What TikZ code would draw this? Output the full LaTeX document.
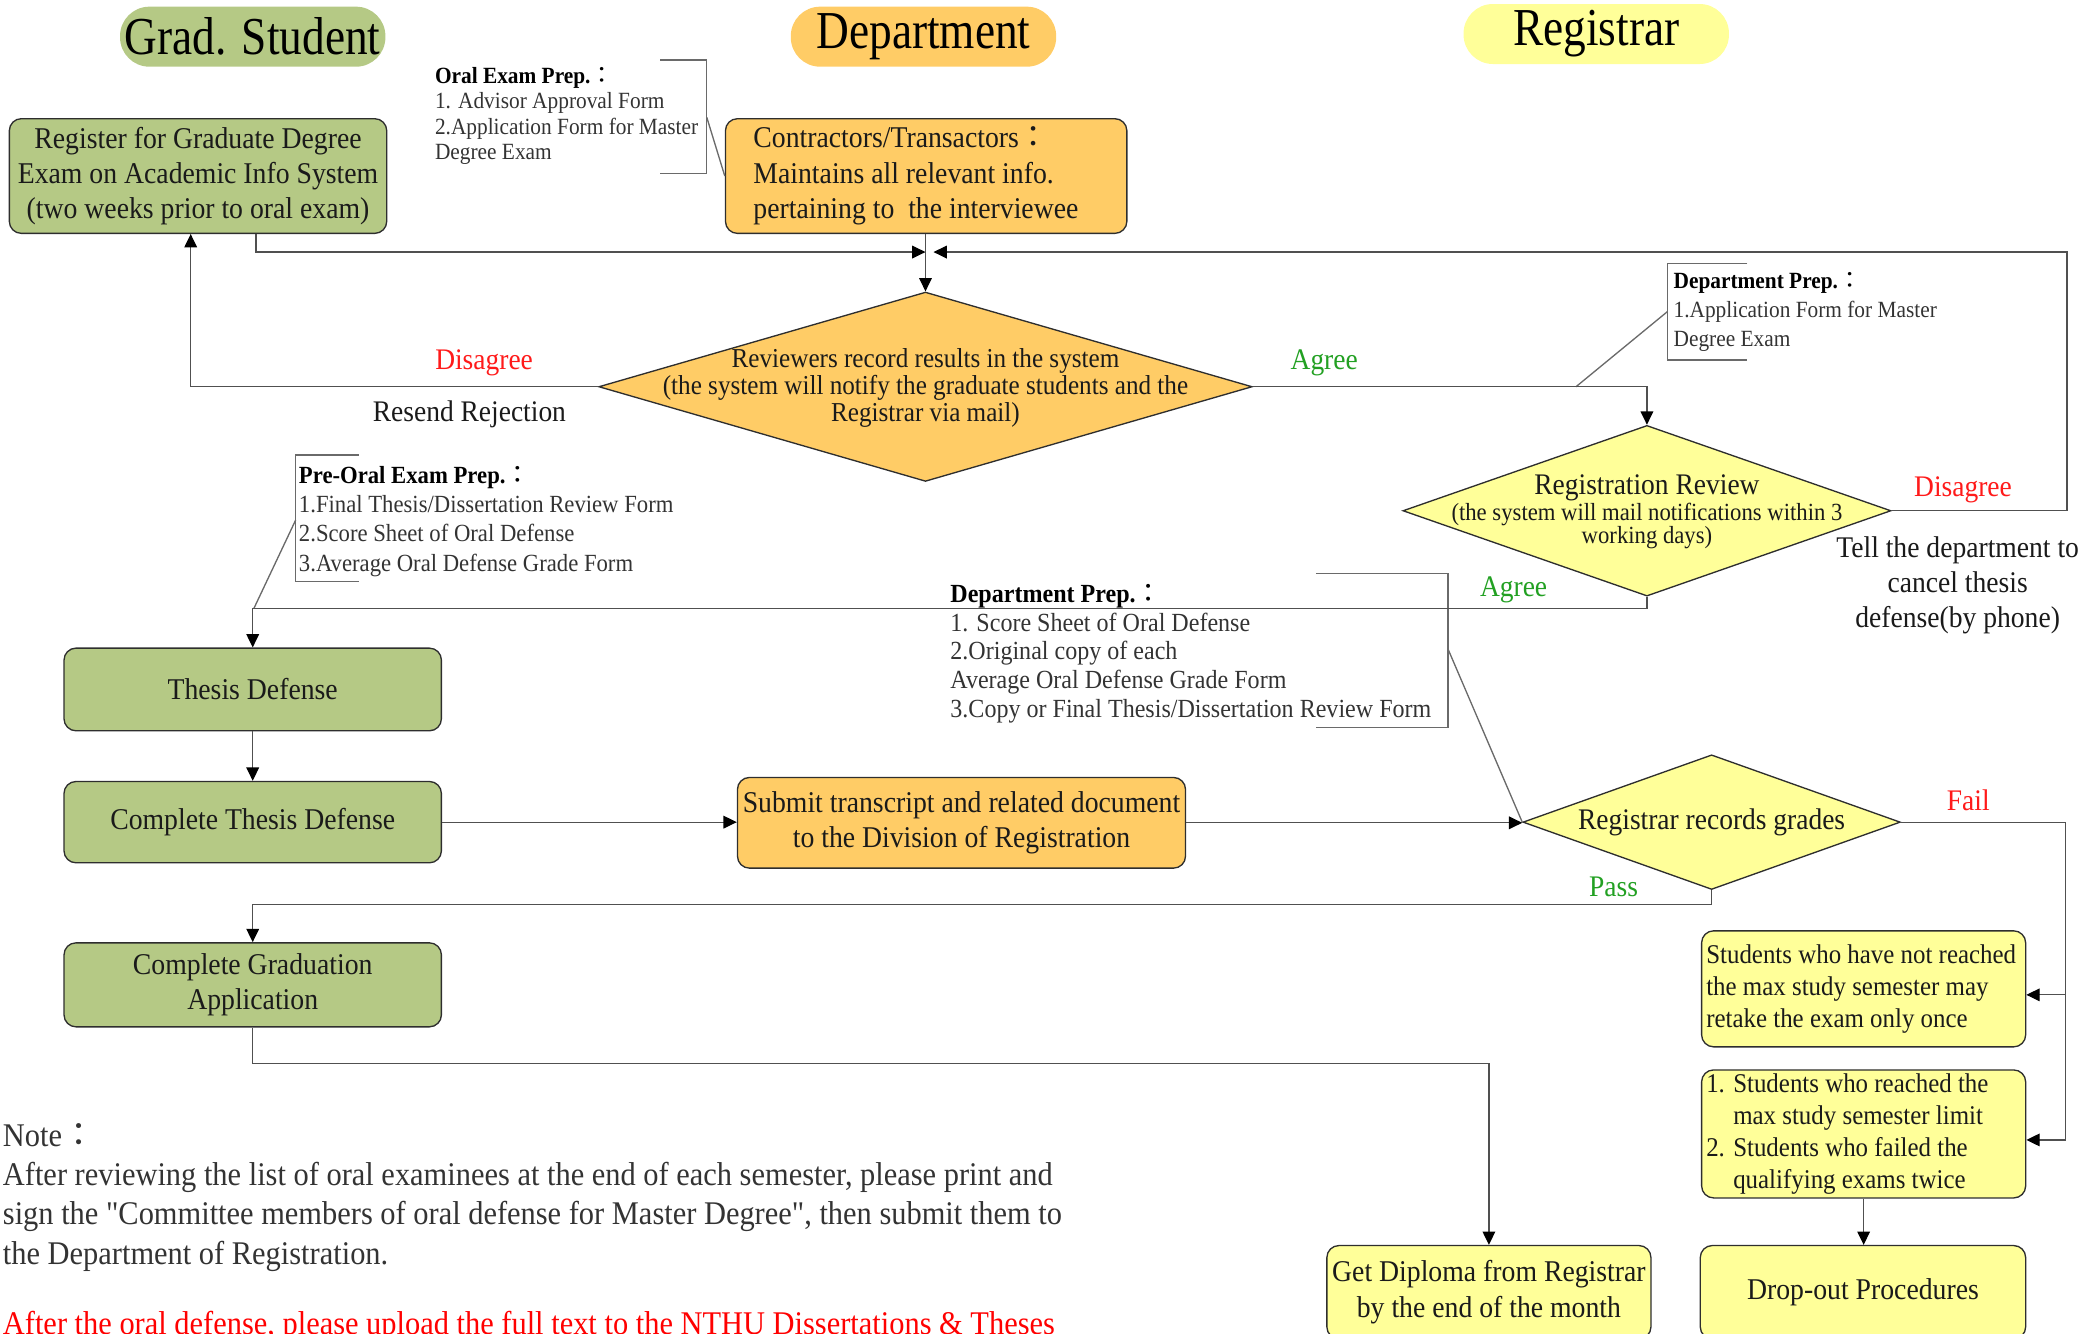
\documentclass[tikz,border=0pt]{standalone}
\usepackage{fontspec}
\setmainfont[FakeStretch=0.92, Ligatures=TeXOff]{Liberation Serif}
\newfontfamily\hdf[FakeStretch=0.85]{Liberation Serif}
\newfontfamily\cjkf{Noto Sans CJK TC}
\usetikzlibrary{arrows.meta,shapes.geometric}
\definecolor{gfill}{HTML}{B5C985}
\definecolor{ofill}{HTML}{FFCC66}
\definecolor{yfill}{HTML}{FFFF99}
\definecolor{agreec}{HTML}{22A022}
\definecolor{redc}{HTML}{FF1A1A}
\definecolor{linec}{HTML}{505050}
\definecolor{edgec}{HTML}{2E2E2E}
\definecolor{txtc}{HTML}{1A1A1A}
\definecolor{annc}{HTML}{333333}
\definecolor{brkc}{HTML}{6A6A6A}
\newcommand\myfs[2]{\fontsize{#1}{#2}\selectfont}
\newcommand\fwc{{\cjkf ：}}
\begin{document}
\begin{tikzpicture}[x=1pt,y=-1pt,
  hdr/.style={rounded corners=22pt, minimum width=199, minimum height=45, inner sep=0pt, font=\hdf\myfs{40}{44}, text=black},
  box/.style={draw=edgec, line width=1pt, rounded corners=9pt, inner sep=0pt, align=center, text=txtc, font=\myfs{22.6}{26.5}},
  dia/.style={diamond, draw=edgec, line width=1pt, inner sep=0pt},
  dtext/.style={align=center, inner sep=0pt, text=txtc},
  lab/.style={inner sep=0pt, font=\myfs{22.4}{26}},
  annot/.style={align=left, inner sep=0pt, text=annc},
  conn/.style={draw=linec, line width=0.9pt},
  arr/.style={draw=linec, line width=0.9pt, -{Triangle[length=10pt,width=9.5pt,color=black]}},
  brk/.style={draw=brkc, line width=1pt}
]
\useasboundingbox (0,0) rectangle (1568,999.6);

% headers
\node[hdr, fill=gfill] (hgrad) at (189.5,27.5) {Grad. Student};
\node[hdr, fill=ofill] (hdept) at (692.5,27.5) {Department};
\node[hdr, fill=yfill] (hreg) at (1197,25.5) {Registrar};

% boxes
\node[box, fill=gfill, minimum width=283, minimum height=86] (reg) at (148.5,132)
  {Register for Graduate Degree\\Exam on Academic Info System\\(two weeks prior to oral exam)};
\node[box, fill=ofill, minimum width=301, minimum height=86, text width=259, align=flush left] (con) at (694.5,132)
  {Contractors/Transactors\fwc\\Maintains all relevant info.\\pertaining to \ the interviewee};
\node[box, fill=gfill, minimum width=283, minimum height=62] (td) at (189.5,517) {Thesis Defense};
\node[box, fill=gfill, minimum width=283, minimum height=61] (ctd) at (189.5,616.5) {Complete Thesis Defense};
\node[box, fill=ofill, minimum width=336, minimum height=68] (sub) at (721,617)
  {Submit transcript and related document\\to the Division of Registration};
\node[box, fill=gfill, minimum width=283, minimum height=63] (cga) at (189.5,738.5)
  {Complete Graduation\\Application};
\node[box, fill=yfill, minimum width=243, minimum height=87, text width=236, align=flush left, font=\myfs{20.3}{24}] (s1) at (1397.5,741.5)
  {Students who have not reached\\the max study semester may\\retake the exam only once};
\node[box, fill=yfill, minimum width=243, minimum height=96, text width=236, align=flush left, font=\myfs{20.3}{24}] (s2) at (1397.5,850.3)
  {1. Students who reached the\\\hphantom{1. }max study semester limit\\2. Students who failed the\\\hphantom{2. }qualifying exams twice};
\node[box, fill=yfill, minimum width=243, minimum height=70] (dip) at (1116.5,969)
  {Get Diploma from Registrar\\by the end of the month};
\node[box, fill=yfill, minimum width=244, minimum height=70] (drop) at (1397,969) {Drop-out Procedures};

% diamonds
\node[dia, fill=ofill, minimum width=490, minimum height=142] (d1) at (694,290) {};
\node[dtext, font=\myfs{20.5}{20.5}] (d1t) at (694,291)
  {Reviewers record results in the system\\(the system will notify the graduate students and the\\Registrar via mail)};
\node[dia, fill=yfill, minimum width=366, minimum height=128] (d2) at (1235,383) {};
\node[dtext] (d2t) at (1235,384)
  {\myfs{22.4}{22}Registration Review\\\myfs{18.5}{19}(the system will mail notifications within 3\\\myfs{18.5}{19}working days)};
\node[dia, fill=yfill, minimum width=283, minimum height=101] (d3) at (1283.5,616.5) {};
\node[dtext, font=\myfs{22.4}{26}] (d3t) at (1283.5,617) {Registrar records grades};

% annotations
\node[annot, anchor=west, font=\myfs{17.4}{19}] (oralp) at (326,87)
  {\textcolor{black}{\textbf{Oral Exam Prep.}\fwc}\\1. Advisor Approval Form\\2.Application Form for Master\\Degree Exam};
\node[annot, anchor=west, font=\myfs{17.4}{22}] (deptp1) at (1254.8,234)
  {\textcolor{black}{\textbf{Department Prep.}\fwc}\\1.Application Form for Master\\Degree Exam};
\node[annot, anchor=west, font=\myfs{18.5}{22}] (prep) at (224,391)
  {\textcolor{black}{\textbf{Pre-Oral Exam Prep.}\fwc}\\1.Final Thesis/Dissertation Review Form\\2.Score Sheet of Oral Defense\\3.Average Oral Defense Grade Form};
\node[annot, anchor=west, font=\myfs{19.6}{21.5}] (deptp2) at (712.5,490)
  {\textcolor{black}{\textbf{Department Prep.}\fwc}\\1. Score Sheet of Oral Defense\\2.Original copy of each\\Average Oral Defense Grade Form\\3.Copy or Final Thesis/Dissertation Review Form};

% brackets
\coordinate (ob1) at (495,45); \coordinate (ob2) at (530,45); \coordinate (ob3) at (530,130); \coordinate (ob4) at (495,130); \coordinate (obs) at (530,88);
\draw[brk] (ob1) -- (ob2) -- (ob3) -- (ob4);
\draw[brk] (obs) -- (con.west);
\coordinate (tb1) at (1310.3,197.5); \coordinate (tb2) at (1250.3,197.5); \coordinate (tb3) at (1250.3,270); \coordinate (tb4) at (1310.3,270); \coordinate (tbs) at (1250.3,233.7); \coordinate (tbe) at (1181.8,290);
\draw[brk] (tb1) -- (tb2) -- (tb3) -- (tb4);
\draw[brk] (tbs) -- (tbe);
\coordinate (pb1) at (269.2,341.2); \coordinate (pb2) at (221.7,341.2); \coordinate (pb3) at (221.7,436.2); \coordinate (pb4) at (269.2,436.2); \coordinate (pbs) at (221.7,390); \coordinate (pbe) at (190.5,456);
\draw[brk] (pb1) -- (pb2) -- (pb3) -- (pb4);
\draw[brk] (pbs) -- (pbe);
\coordinate (mb1) at (986.7,429.8); \coordinate (mb2) at (1085.7,429.8); \coordinate (mb3) at (1085.7,545.5); \coordinate (mb4) at (986.7,545.5); \coordinate (mbs) at (1085.7,486.4);
\draw[brk] (mb1) -- (mb2) -- (mb3) -- (mb4);
\draw[brk] (mbs) -- (d3.west);

% connectors
\coordinate (j1) at (694,189);
\coordinate (rcol) at (1550,0);
\coordinate (fcol) at (1549,0);
\draw[arr] ([xshift=43.5pt]reg.south) |- (j1);
\draw[arr] (d2.east) -- (d2.east -| rcol) |- ([xshift=6pt]j1);
\draw[arr] (con.south -| d1.north) -- (d1.north);
\draw[arr] (d1.west) -| ([xshift=-5.5pt]reg.south);
\draw[arr] (d1.east) -| (d2.north);
\draw[arr] (d2.south) -- ++(0,9) -| (td.north);
\draw[arr] (td.south) -- (ctd.north);
\draw[arr] (ctd.east) -- (ctd.east -| sub.west);
\draw[arr] (sub.east) -- (sub.east -| d3.west);
\draw[conn] (d3.east) -- (d3.east -| fcol) -- ([yshift=-4.5pt]fcol |- s2.east);
\draw[arr] ([yshift=-4.5pt]fcol |- s1.east) -- ([yshift=-4.5pt]s1.east);
\draw[arr] ([yshift=-4.5pt]fcol |- s2.east) -- ([yshift=-4.5pt]s2.east);
\draw[arr] (d3.south) -- ++(0,10.5) -| (cga.north);
\draw[arr] (cga.south) -- ++(0,27) -| (dip.north);
\draw[arr] (s2.south) -- (s2.south |- drop.north);

% labels
\node[lab, text=redc] (l1) at (363,272) {Disagree};
\node[lab, text=txtc] (l2) at (352,311) {Resend Rejection};
\node[lab, text=agreec] (l3) at (993,272) {Agree};
\node[lab, text=redc] (l4) at (1472,367) {Disagree};
\node[lab, text=txtc, align=center, font=\myfs{22.5}{26}] (l5) at (1468,439) {Tell the department to\\cancel thesis\\defense(by phone)};
\node[lab, text=agreec] (l6) at (1135,442) {Agree};
\node[lab, text=redc] (l7) at (1476,600) {Fail};
\node[lab, text=agreec] (l8) at (1210,665) {Pass};

% note
\node[annot, anchor=west, text=annc, font=\myfs{24.8}{29.3}] (note) at (2,898)
  {Note\fwc\\After reviewing the list of oral examinees at the end of each semester, please print and\\sign the "Committee members of oral defense for Master Degree", then submit them to\\the Department of Registration.};
\node[anchor=base west, inner sep=0pt, text=red, font=\myfs{24.8}{29.3}] (upl) at (2,1001)
  {After the oral defense, please upload the full text to the NTHU Dissertations \& Theses};
\end{tikzpicture}
\end{document}
